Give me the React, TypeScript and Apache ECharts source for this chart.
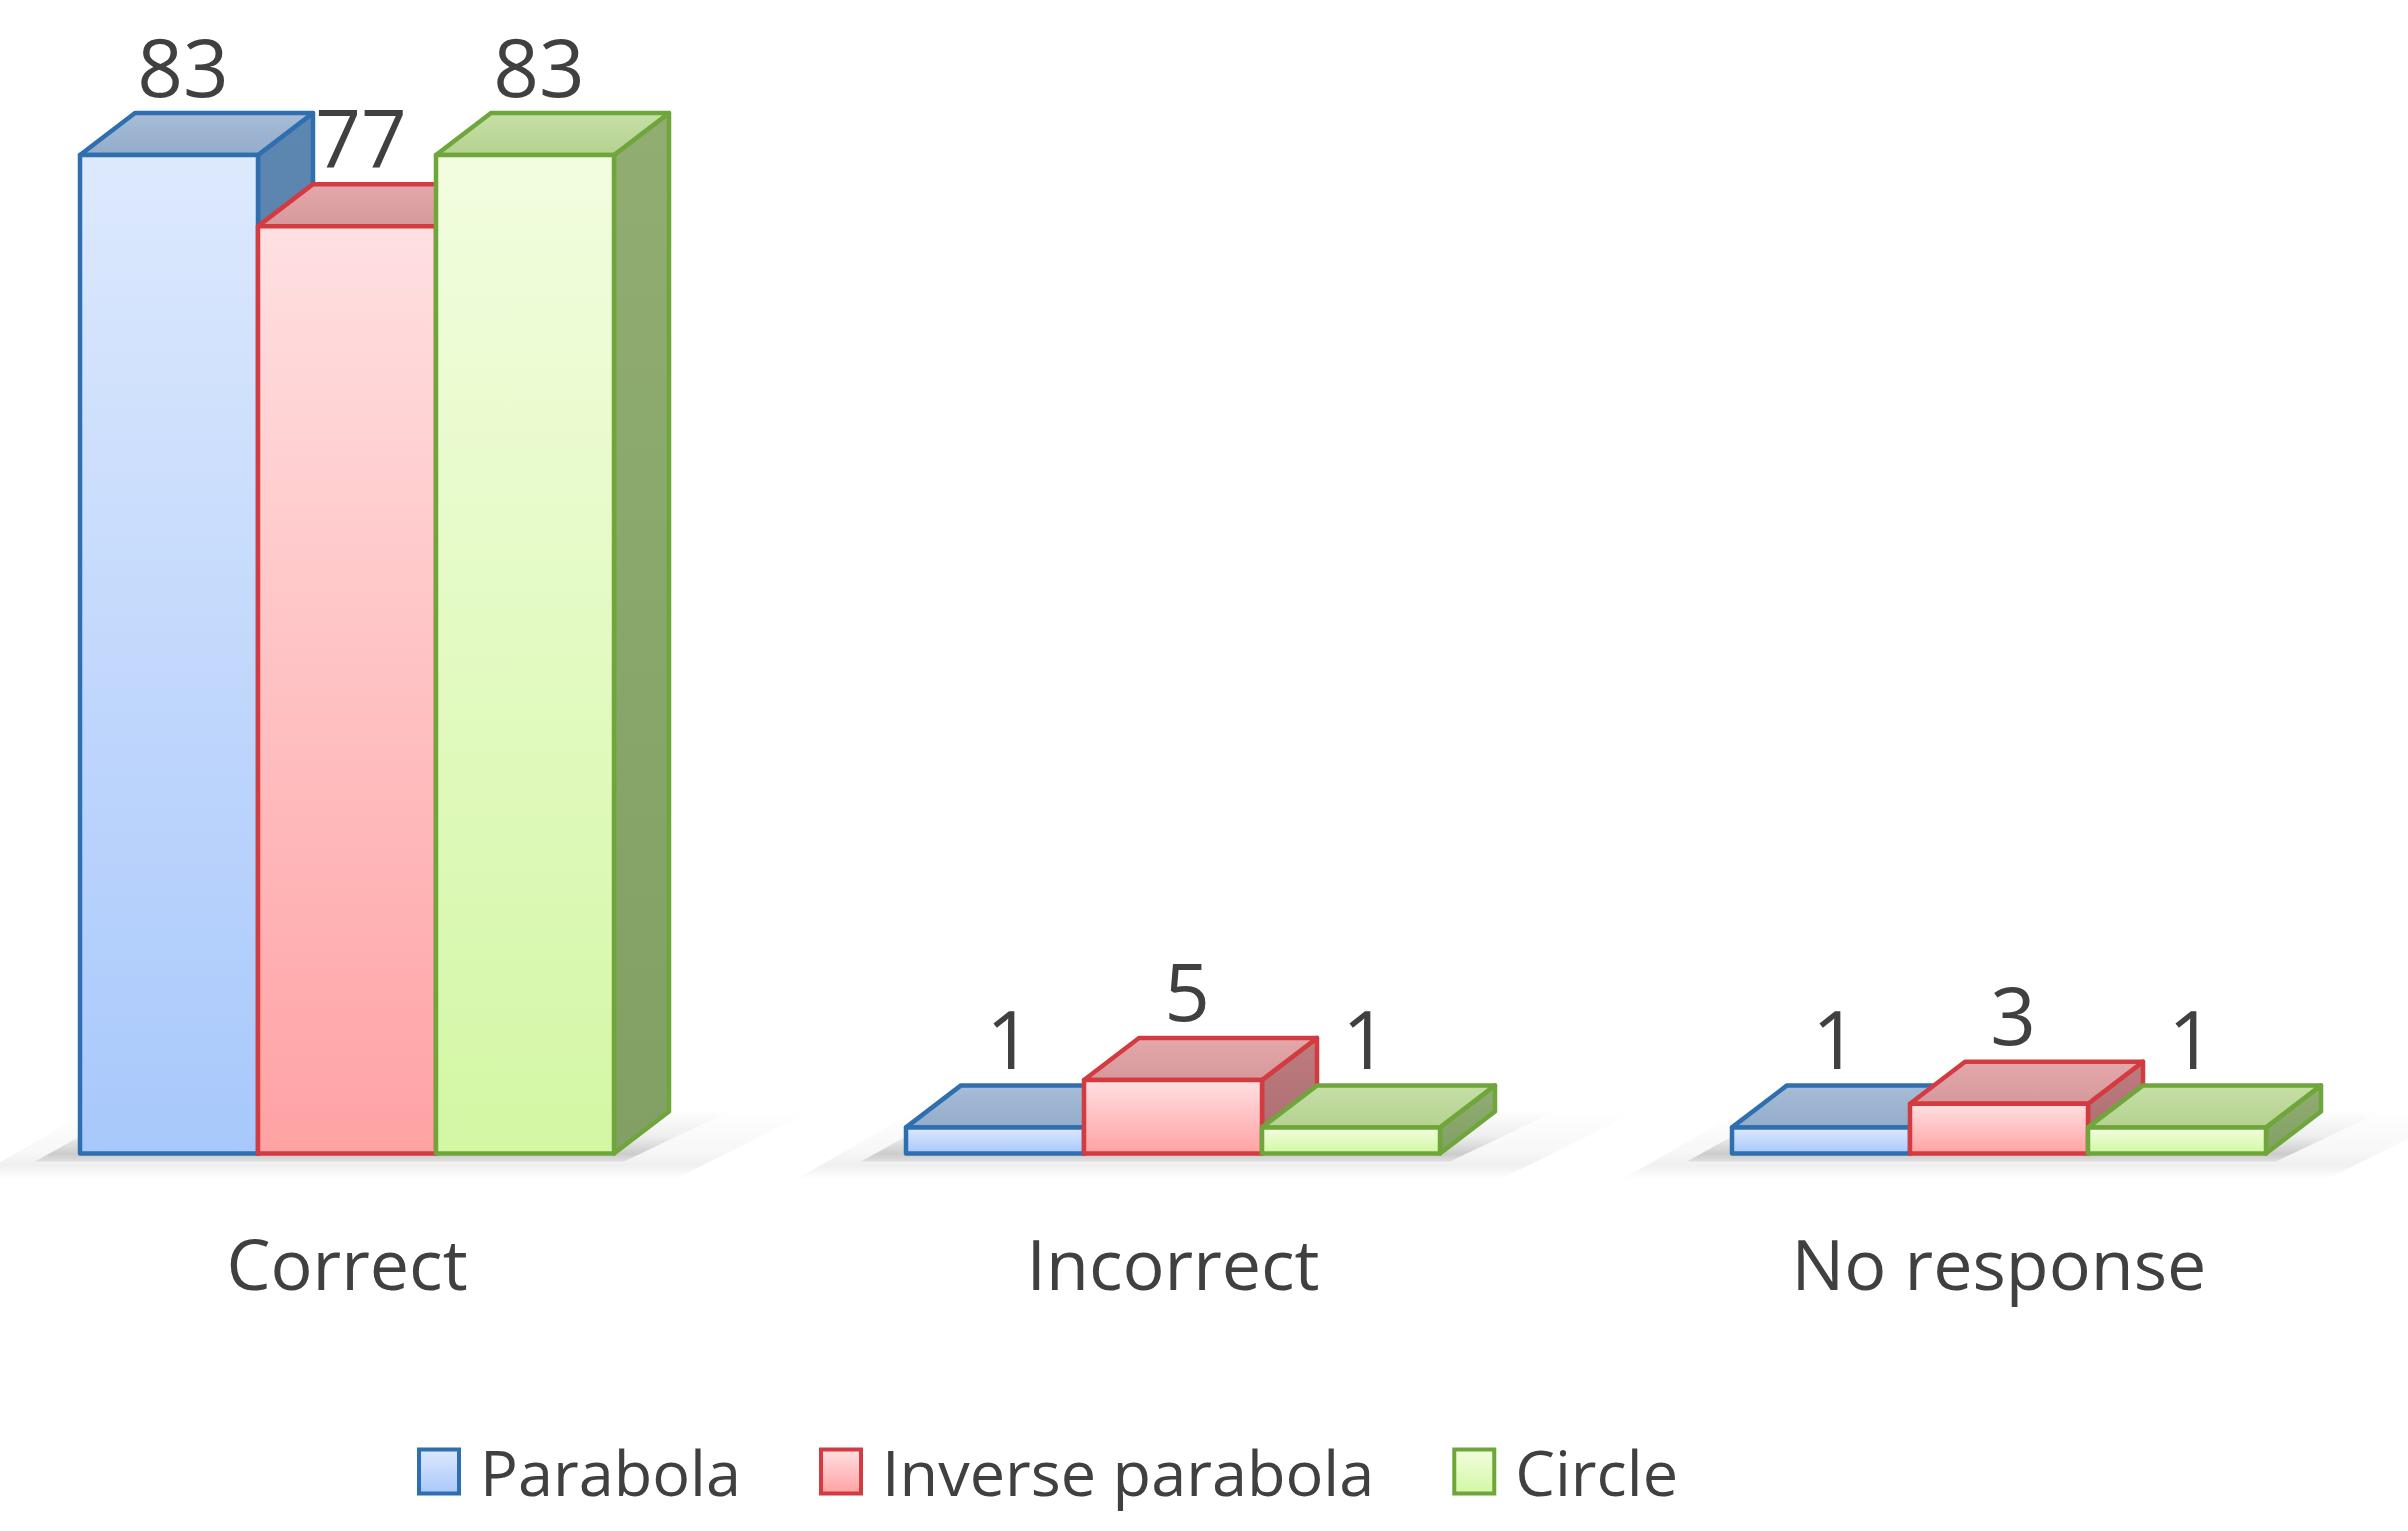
import React, { useEffect, useRef } from 'react';
import * as echarts from 'echarts';

// ---- data ----
const categories = ['Correct', 'Incorrect', 'No response'];
const seriesNames = ['Parabola', 'Inverse parabola', 'Circle'];
const parabolaValues = [83, 1, 1];
const inverseParabolaValues = [77, 5, 3];
const circleValues = [83, 1, 1];
const seriesValues = [parabolaValues, inverseParabolaValues, circleValues];

// ---- axis range ----
const Y_MIN = -1.2;
const Y_MAX = 90;

// ---- styles ----
const PALETTE = [
  { front: ['#dde9fd', '#a8c8fb'], border: '#2f6fb0', top: ['#a7bdd8', '#93acca'], side: ['#5d86b1', '#4f749c'] },
  { front: ['#ffe0e1', '#ffa2a4'], border: '#d33b40', top: ['#e3a8ab', '#d7989b'], side: ['#bd7d80', '#ab6c6f'] },
  { front: ['#f2fddf', '#d3f7a4'], border: '#6fa63b', top: ['#c6dfa6', '#b5d290'], side: ['#91ad72', '#82a064'] },
];
const BAR_W = 178;
const DX = 55;
const DY = 42;
const BORDER = 4.5;
const FONT = '"Open Sans", "DejaVu Sans", sans-serif';
const TEXT = '#404040';

const grad = (a: string, b: string) =>
  new echarts.graphic.LinearGradient(0, 0, 0, 1, [
    { offset: 0, color: a },
    { offset: 1, color: b },
  ]);

const renderBar = (si: number) => (params: any, api: any) => {
  const cat = api.value(0);
  const v = api.value(1);
  const pBase = api.coord([cat, Y_MIN]);
  const pTop = api.coord([cat, v]);
  const x0 = pBase[0] - 1.5 * BAR_W + si * BAR_W;
  const x1 = x0 + BAR_W;
  const yb = pBase[1];
  const yt = pTop[1];
  const pal = PALETTE[si];
  const line = { stroke: pal.border, lineWidth: BORDER, lineJoin: 'round' };
  return {
    type: 'group',
    children: [
      {
        type: 'polygon',
        shape: { points: [[x1, yt], [x1 + DX, yt - DY], [x1 + DX, yb - DY], [x1, yb]] },
        style: { fill: grad(pal.side[0], pal.side[1]), ...line },
      },
      {
        type: 'polygon',
        shape: { points: [[x0, yt], [x0 + DX, yt - DY], [x1 + DX, yt - DY], [x1, yt]] },
        style: { fill: grad(pal.top[0], pal.top[1]), ...line },
      },
      {
        type: 'rect',
        shape: { x: x0, y: yt, width: BAR_W, height: yb - yt },
        style: { fill: grad(pal.front[0], pal.front[1]), ...line },
      },
      {
        type: 'text',
        z2: 100,
        x: (x0 + x1) / 2 + 14,
        y: yt - DY - 48,
        style: {
          text: String(v),
          align: 'center',
          verticalAlign: 'middle',
          fill: TEXT,
          fontSize: 80,
          fontFamily: FONT,
        },
      },
    ],
  };
};

const renderFloor = (params: any, api: any) => {
  const cat = api.value(0);
  const p = api.coord([cat, Y_MIN]);
  const xL = p[0] - 1.5 * BAR_W;
  const xR = p[0] + 1.5 * BAR_W;
  const yb = p[1];
  return {
    type: 'group',
    silent: true,
    children: [
      {
        type: 'polygon',
        shape: {
          points: [
            [xL - 110, yb + 26],
            [xR + 60, yb + 26],
            [xR + DX + 150, yb - DY - 4],
            [xL + DX - 40, yb - DY - 4],
          ],
        },
        style: {
          fill: new echarts.graphic.LinearGradient(0, 0, 0, 1, [
            { offset: 0, color: 'rgba(0,0,0,0)' },
            { offset: 0.6, color: 'rgba(0,0,0,0.03)' },
            { offset: 0.8, color: 'rgba(0,0,0,0.06)' },
            { offset: 1, color: 'rgba(0,0,0,0)' },
          ]),
        },
      },
      {
        type: 'polygon',
        shape: {
          points: [
            [xL - 45, yb + 8],
            [xR + 10, yb + 8],
            [xR + DX + 60, yb - DY],
            [xL + DX - 10, yb - DY],
          ],
        },
        style: {
          fill: new echarts.graphic.LinearGradient(0, 0, 0, 1, [
            { offset: 0, color: 'rgba(0,0,0,0)' },
            { offset: 0.5, color: 'rgba(0,0,0,0.05)' },
            { offset: 0.85, color: 'rgba(0,0,0,0.17)' },
            { offset: 1, color: 'rgba(0,0,0,0.08)' },
          ]),
        },
      },
    ],
  };
};

export default function App() {
  const ref = useRef<HTMLDivElement>(null);
  useEffect(() => {
    if (!ref.current) return;
    const chart = echarts.init(ref.current, null, { renderer: 'svg' });
    const option: any = {
      animation: false,
      backgroundColor: '#ffffff',
      grid: { left: 347, right: 409, top: 72, bottom: 377.5 },
      xAxis: {
        type: 'category',
        data: categories,
        boundaryGap: false,
        axisLine: { show: false, onZero: false },
        axisTick: { show: false },
        splitLine: { show: false },
        axisLabel: {
          margin: 74,
          fontSize: 70,
          lineHeight: 70,
          fontFamily: FONT,
          color: TEXT,
        },
      },
      yAxis: {
        type: 'value',
        min: Y_MIN,
        max: Y_MAX,
        show: false,
        splitLine: { show: false },
      },
      legend: {
        left: 412,
        top: 1435,
        icon: 'rect',
        itemWidth: 40,
        itemHeight: 44,
        itemGap: 78,
        selectedMode: false,
        textStyle: {
          fontSize: 63,
          lineHeight: 63,
          fontFamily: FONT,
          color: TEXT,
          padding: [0, 0, 0, 16],
        },
        data: seriesNames.map((n, i) => ({
          name: n,
          itemStyle: {
            color: grad(PALETTE[i].front[0], PALETTE[i].front[1]),
            borderColor: PALETTE[i].border,
            borderWidth: 4,
          },
        })),
      },
      series: [
        {
          type: 'custom',
          name: '_floor',
          silent: true,
          clip: false,
          renderItem: renderFloor,
          data: categories.map((c, j) => [j, 0]),
          z: 1,
        },
        ...seriesNames.map((n, i) => ({
          type: 'custom',
          name: n,
          clip: false,
          z: 2,
          itemStyle: { color: PALETTE[i].border },
          renderItem: renderBar(i),
          data: seriesValues[i].map((v, j) => [j, v]),
        })),
      ],
    };
    chart.setOption(option);
    return () => chart.dispose();
  }, []);
  return (
    <div
      ref={ref}
      style={{ position: 'fixed', left: 0, top: 0, width: 2408, height: 1531, background: '#fff' }}
    />
  );
}
